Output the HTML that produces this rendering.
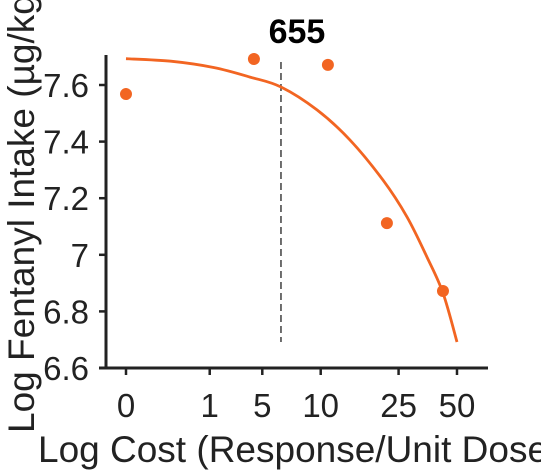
<!DOCTYPE html>
<html><head><meta charset="utf-8"><style>
html,body{margin:0;padding:0;background:#fff;overflow:hidden}
svg{display:block;font-family:"Liberation Sans",Arial,sans-serif}
</style></head><body>
<svg id="chart" width="541" height="472" viewBox="0 0 541 472">
<g id="axes"></g>
<g id="marks"></g>
</svg>
<script>
const xTickVals=[0,0.43,0.70,1.0,1.40,1.70];
const xTickLabels=["0","1","5","10","25","50"];
const yTickVals=[6.6,6.8,7.0,7.2,7.4,7.6];
const yTickLabels=["6.6","6.8","7","7.2","7.4","7.6"];
const pointX=[0,0.657,1.037,1.34,1.628];
const pointY=[7.568,7.692,7.671,7.112,6.872];
const curveX=[0,0.23,0.45,0.637,0.796,0.981,1.15,1.32,1.443,1.546,1.628,1.70];
const curveY=[7.693,7.684,7.662,7.628,7.593,7.512,7.406,7.264,7.134,6.992,6.865,6.692];
const pmaxX=0.796;
const pmaxLabel="655";

const NS="http://www.w3.org/2000/svg";
function xs(v){return 126+v*194.7;}
function ys(v){return 368-(v-6.6)*283;}
function mk(t,a,p){const e=document.createElementNS(NS,t);for(const k in a)e.setAttribute(k,a[k]);p.appendChild(e);return e;}
const ax=document.getElementById('axes'),mg=document.getElementById('marks');
let e;
e=mk('line',{x1:106,y1:55,x2:106,y2:369.5,stroke:'#222','stroke-width':3},ax);

e=mk('line',{x1:99,y1:368,x2:488,y2:368,stroke:'#222','stroke-width':3},ax);

yTickVals.forEach((v,i)=>{
 const t=mk('line',{x1:99,x2:106,y1:ys(v),y2:ys(v),stroke:'#222','stroke-width':2.5},ax);
 
 const l=mk('text',{x:89,y:ys(v)+12,'text-anchor':'end','font-size':33,fill:'#222'},ax);
 l.textContent=yTickLabels[i];
 
});
xTickVals.forEach((v,i)=>{
 const t=mk('line',{x1:xs(v),x2:xs(v),y1:368,y2:375,stroke:'#222','stroke-width':2.5},ax);
 
 const l=mk('text',{x:xs(v),y:417,'text-anchor':'middle','font-size':33,fill:'#222'},ax);
 l.textContent=xTickLabels[i];
 
});
e=mk('text',{x:38,y:462,'font-size':37,fill:'#222'},ax);
e.textContent='Log Cost (Response/Unit Dose)';

e=mk('text',{x:0,y:0,'font-size':37,fill:'#222',transform:'translate(34,433) rotate(-90)'},ax);
e.textContent='Log Fentanyl Intake (µg/kg)';

e=mk('line',{x1:xs(pmaxX),x2:xs(pmaxX),y1:62,y2:342,stroke:'#222','stroke-width':1.3,'stroke-dasharray':'7,4'},mg);

e=mk('text',{x:xs(pmaxX)+16,y:43,'text-anchor':'middle','font-size':34,'font-weight':'bold',fill:'#000'},mg);
e.textContent=pmaxLabel;

const P=curveX.map((v,i)=>[xs(v),ys(curveY[i])]);
let d='M'+P[0][0].toFixed(1)+','+P[0][1].toFixed(1);
for(let i=0;i<P.length-1;i++){
 const p0=P[Math.max(0,i-1)],p1=P[i],p2=P[i+1],p3=P[Math.min(P.length-1,i+2)];
 const c1=[p1[0]+(p2[0]-p0[0])/6,p1[1]+(p2[1]-p0[1])/6];
 const c2=[p2[0]-(p3[0]-p1[0])/6,p2[1]-(p3[1]-p1[1])/6];
 d+='C'+c1.map(n=>n.toFixed(1)).join(',')+' '+c2.map(n=>n.toFixed(1)).join(',')+' '+p2.map(n=>n.toFixed(1)).join(',');
}
e=mk('path',{d:d,fill:'none',stroke:'#f26522','stroke-width':2.8,'stroke-linejoin':'round'},mg);

pointX.forEach((v,i)=>{
 const c=mk('circle',{cx:xs(v),cy:ys(pointY[i]),r:6,fill:'#f26522'},mg);
 
});
</script>
</body></html>
